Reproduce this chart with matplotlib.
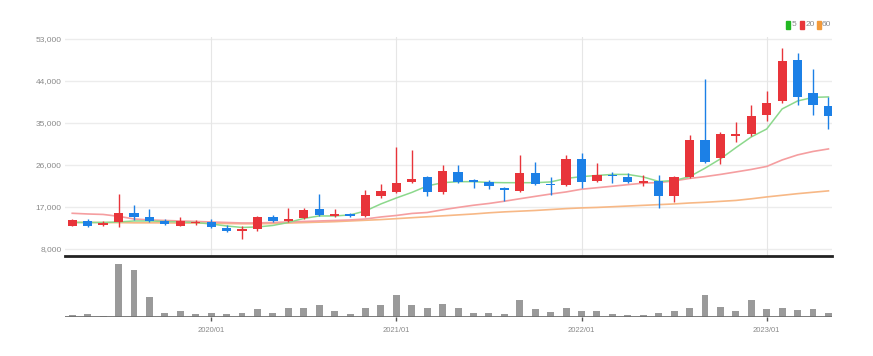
import numpy as np
import matplotlib
matplotlib.use("Agg")
from matplotlib import pyplot as plt
from matplotlib.patches import Rectangle

plt.rcParams['font.family'] = ['Liberation Sans', 'DejaVu Sans']

# monthly candles, 2019/04 .. 2023/05
months = ['2019/%02d' % m for m in range(4, 13)] + \
         ['%d/%02d' % (y, m) for y in (2020, 2021, 2022) for m in range(1, 13)] + \
         ['2023/%02d' % m for m in range(1, 6)]

opens = [12930, 14100, 13150, 13700, 15650, 14950, 14100, 13000, 13500, 13850,
         12450, 11950, 12200, 14800, 14000, 14600, 16600, 15100, 15500, 15100,
         19350, 20150, 22300, 23500, 20300, 24550, 22700, 22400, 21150, 20500,
         24200, 21950, 21600, 27200, 22600, 23900, 23350, 22100, 22600, 19450,
         23500, 31350, 27450, 32300, 32650, 36600, 39600, 48500, 41500, 38700]
highs = [14400, 14400, 13900, 19800, 17400, 16550, 14500, 14950, 14300, 14400,
         13150, 13000, 15100, 15300, 16700, 16700, 19700, 16500, 15700, 20600,
         21900, 29900, 29100, 23700, 26000, 26000, 23000, 22750, 21200, 28200,
         26700, 23400, 28100, 28500, 26350, 24550, 24200, 23850, 23850, 23700,
         32450, 44450, 33000, 35300, 38850, 41850, 51150, 49950, 46500, 40650]
lows = [12900, 12650, 12850, 12650, 14200, 13850, 13100, 12900, 13100, 12450,
        11700, 10100, 11900, 13700, 13700, 14400, 15100, 14900, 14900, 14900,
        19000, 19950, 22100, 19300, 19800, 22100, 21100, 20950, 18350, 20300,
        21700, 19600, 21400, 21100, 22400, 22200, 22200, 21400, 16700, 18150,
        23150, 26400, 26200, 30850, 32100, 35450, 39250, 38850, 36700, 33700]
closes = [14200, 13000, 13650, 15650, 14850, 14000, 13450, 14070, 13800, 12650,
          11950, 12250, 14900, 13900, 14400, 16400, 15300, 15500, 15100, 19650,
          20500, 22200, 22900, 20150, 24700, 22400, 22300, 21400, 20650, 24200,
          21950, 21600, 27200, 22400, 23850, 23600, 22400, 22600, 19450, 23500,
          31350, 26600, 32600, 32650, 36400, 39250, 48350, 40650, 38850, 36500]

ma5 = [13680, 13680, 13680, 13790, 14000, 14000, 13900, 13790, 13680, 13360,
       12930, 12610, 12720, 13040, 13680, 14540, 15075, 15075, 15290, 16150,
       17650, 18930, 20110, 21500, 22200, 22420, 22420, 22250, 22200, 22200,
       22200, 22360, 23110, 23500, 23750, 23970, 23970, 23430, 22470, 22640,
       23500, 25300, 27300, 29700, 32000, 33700, 38000, 39700, 40470, 40570]
ma20 = [15650, 15500, 15400, 15000, 14430, 14220, 14110, 14000, 13900, 13790,
        13680, 13575, 13575, 13680, 13790, 13900, 14000, 14110, 14220, 14430,
        14860, 15180, 15610, 15820, 16400, 16900, 17370, 17750, 18230, 18760,
        19270, 19770, 20220, 20800, 21120, 21440, 21780, 22100, 22230, 22570,
        23110, 23500, 23970, 24500, 25040, 25680, 27070, 28150, 28890, 29430]
ma60 = [13700, 13700, 13650, 13650, 13600, 13600, 13600, 13550, 13550, 13500,
        13450, 13400, 13400, 13450, 13550, 13650, 13750, 13850, 14000, 14150,
        14300, 14500, 14700, 14900, 15100, 15300, 15500, 15750, 15950, 16100,
        16250, 16450, 16650, 16800, 16900, 17050, 17200, 17350, 17500, 17650,
        17850, 18000, 18200, 18400, 18750, 19150, 19500, 19850, 20150, 20450]

volumes = [7, 8, 4, 158, 140, 61, 13, 18, 8, 12, 9, 13, 23, 13, 27, 28, 35, 18,
           8, 28, 37, 65, 37, 28, 40, 27, 13, 12, 8, 50, 23, 15, 28, 17, 17, 8,
           7, 7, 13, 17, 28, 67, 31, 18, 51, 23, 27, 22, 23, 13]

yticks = [8000, 17000, 26000, 35000, 44000, 53000]
xtick_labels = ['2020/01', '2021/01', '2022/01', '2023/01']
legend_names = ['5', '20', '60']
legend_cols = ['#22b822', '#e8343a', '#f39a3a']

UP = '#e8343a'
DOWN = '#1c80e6'
GREY_TXT = '#8a8a8a'

x = np.arange(len(months))
o = np.array(opens); c = np.array(closes)
h = np.array(highs); l = np.array(lows)
cols = [UP if cc >= oo else DOWN for oo, cc in zip(o, c)]
xt = [months.index(s) for s in xtick_labels]

fig = plt.figure(figsize=(8.73, 3.56), dpi=100)
ax = fig.add_axes([65/873, 100/356, 767/873, 219/356])
axv = fig.add_axes([65/873, 39/356, 767/873, 59/356])

xlim = (-0.47, 49.23)

# price panel
for yy in yticks:
    ax.axhline(yy, color='#ececec', lw=1, zorder=0)
for t in xt:
    ax.axvline(t, color='#e6e6e6', lw=0.8, zorder=0)

ax.plot(x, ma60, color='#f7b886', lw=1.2, zorder=1)
ax.plot(x, ma20, color='#f59ea0', lw=1.2, zorder=1)
ax.plot(x, ma5, color='#8cd88c', lw=1.1, zorder=1)

ax.vlines(x, l, h, colors=cols, lw=1.0, zorder=2)
body = np.maximum(np.abs(c - o), 250)
bottom = np.minimum(o, c)
ax.bar(x, body, bottom=bottom, width=0.6, color=cols, zorder=3)

ax.set_xlim(*xlim)
ax.set_ylim(6500, 53400)
ax.set_yticks(yticks)
ax.set_yticklabels(['{:,}'.format(v) for v in yticks], fontsize=6, color=GREY_TXT)
ax.tick_params(axis='y', length=0, pad=2.5)
ax.set_xticks([])
for s in ['top', 'left', 'right']:
    ax.spines[s].set_visible(False)
ax.spines['bottom'].set_color('#222222')
ax.spines['bottom'].set_linewidth(2)

# volume panel
axv.bar(x, volumes, width=0.45, color='#9a9a9a', zorder=2)
axv.axhline(0, color='#707070', lw=2, zorder=3)
axv.set_xlim(*xlim)
axv.set_ylim(0, 177)
axv.set_yticks([])
axv.set_xticks(xt)
axv.set_xticklabels(xtick_labels, fontsize=5.5, color=GREY_TXT)
axv.tick_params(axis='x', length=3, width=1, color='#555555', pad=4)
for s in axv.spines.values():
    s.set_visible(False)

# legend at top right
lx = [786, 800, 816.5]
for px, name, col in zip(lx, legend_names, legend_cols):
    fig.patches.append(Rectangle((px/873, 1 - 29/356), 4/873, 8/356,
                                 transform=fig.transFigure, color=col))
    fig.text((px + 5.5)/873, 1 - 25/356, name, color=GREY_TXT, fontsize=6, va='center')

fig.savefig('out.png', dpi=100)
